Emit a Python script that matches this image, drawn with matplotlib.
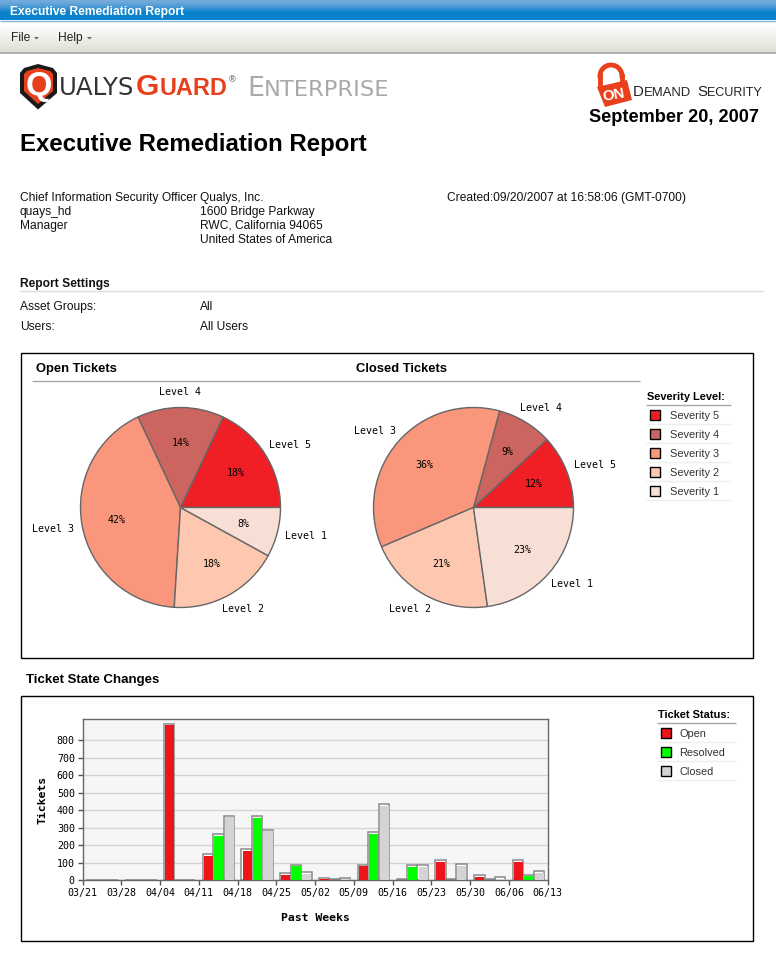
import numpy as np
import matplotlib
matplotlib.use('Agg')
import matplotlib.pyplot as plt
from matplotlib.patches import Polygon, Rectangle

W, H = 776, 968

# dados dos graficos
levels = ['Level 5', 'Level 4', 'Level 3', 'Level 2', 'Level 1']
severities = ['Severity 5', 'Severity 4', 'Severity 3', 'Severity 2', 'Severity 1']
pie_colors = ['#ef1f25', '#cc6460', '#f9967b', '#fec8b0', '#f7dfd5']
open_pct = [18, 14, 42, 18, 8]
closed_pct = [12, 9, 36, 21, 23]

weeks = ['03/21', '03/28', '04/04', '04/11', '04/18', '04/25', '05/02',
         '05/09', '05/16', '05/23', '05/30', '06/06', '06/13']
open_tickets = [0, 0, 895, 150, 180, 40, 15, 90, 5, 114, 28, 114]
resolved_tickets = [0, 0, 0, 265, 365, 90, 5, 274, 86, 5, 5, 32]
closed_tickets = [0, 0, 0, 370, 290, 45, 15, 434, 86, 91, 17, 51]
status_names = ['Open', 'Resolved', 'Closed']
status_colors = ['#ee141c', '#00ff00', '#d4d4d4']

SANS = 'Liberation Sans'
NARROW = 'Liberation Sans Narrow'
MONO = 'DejaVu Sans Mono'
ORANGE = '#e8401c'


def px(size):
    # tamanho em pixels para pontos (dpi 100)
    return size * 0.72


fig = plt.figure(figsize=(W / 100, H / 100), dpi=100)
page = fig.add_axes([0, 0, 1, 1])
page.set_xlim(0, W)
page.set_ylim(H, 0)
page.axis('off')


def txt(x, y, s, size=12, weight='normal', color='#111111', family=SANS, ha='left', **kw):
    page.text(x, y + 1, s, fontsize=px(size), fontweight=weight, color=color,
              family=family, ha=ha, va='center', **kw)


def base(x, y, s, size, weight, color, family):
    # texto do logo, alinhado pela linha de base
    page.text(x, y, s, fontsize=px(size), fontweight=weight, color=color,
              family=family, ha='left', va='baseline')


def hline(y, x0, x1, color, lw=1.0):
    page.plot([x0, x1], [y, y], color=color, lw=lw, solid_capstyle='butt')


# --- barra de titulo e menu ---
blue = np.array([[0.45, 0.67, 0.86], [0.28, 0.6, 0.83], [0.04, 0.51, 0.80], [0.04, 0.51, 0.80]])
page.imshow(blue[:, None, :], extent=[0, W, 20.5, 0], aspect='auto', interpolation='bilinear')
menu = np.linspace(0, 1, 8)[:, None, None] * (np.array([0.88, 0.875, 0.84]) - 1) + 1
page.imshow(menu, extent=[0, W, 53, 23], aspect='auto', interpolation='bilinear')
page.set_xlim(0, W)
page.set_ylim(H, 0)
hline(21, 0, W, '#7fb6dd', 1.0)
hline(53, 0, W, '#a8a8a4', 1.2)
txt(10, 11, 'Executive Remediation Report', 12, 'bold', 'white')
txt(11, 37, 'File', 12, color='#222222')
txt(58, 37, 'Help', 12, color='#222222')
for tx in [36.5, 89.5]:
    page.add_patch(Polygon([[tx - 2.5, 37], [tx + 2.5, 37], [tx, 39.5]], closed=True, fc='#666666', ec='none'))

# --- logos ---
page.add_patch(Polygon([[20, 73], [24, 68], [38, 64], [53, 68], [57, 73], [57, 93], [38, 109.5], [20, 93]],
                       closed=True, fc='#1a1a1a', ec='none'))
page.add_patch(Polygon([[24, 74], [27, 71], [38, 68], [50, 71], [53, 74], [53, 91], [38, 104], [24, 91]],
                       closed=True, fc=ORANGE, ec='none'))
txt(38.5, 85, 'Q', 34, 'bold', 'white', ha='center')
base(59, 95, 'UALYS', 24.5, 'normal', '#333333', NARROW)
base(136, 95, 'G', 30, 'bold', ORANGE, SANS)
base(160, 95, 'UARD', 23.5, 'bold', ORANGE, SANS)
txt(229, 79, '®', 9, color='#333333')
base(247, 96, 'E', 27, 'normal', '#a9a9a9', NARROW)
base(264, 96, 'NTERPRISE', 22.5, 'normal', '#a9a9a9', NARROW)

page.add_patch(Polygon([[597, 87], [627, 80], [632, 100], [605, 107]], closed=True, fc=ORANGE, ec='none'))
theta = np.linspace(np.pi, 2 * np.pi, 30)
page.plot(611 + 11 * np.cos(theta), 76 + 11 * np.sin(theta), color=ORANGE, lw=3.5)
page.plot([600, 600], [76, 87], color=ORANGE, lw=3.5)
page.plot([622, 622], [76, 82], color=ORANGE, lw=3.5)
txt(614, 94, 'ON', 15, 'bold', 'white', ha='center', rotation=10)
base(633, 96, 'D', 15, 'normal', '#222222', SANS)
base(644, 96, 'EMAND', 13, 'normal', '#222222', SANS)
base(697, 96, 'S', 15, 'normal', '#222222', SANS)
base(707, 96, 'ECURITY', 12.5, 'normal', '#222222', SANS)
txt(589, 117, 'September 20, 2007', 18.2, 'bold', '#000000')
txt(20, 144, 'Executive Remediation Report', 24, 'bold', '#000000')

# --- cabecalho do relatorio ---
left_col = ['Chief Information Security Officer', 'quays_hd', 'Manager']
mid_col = ['Qualys, Inc.', '1600 Bridge Parkway', 'RWC, California 94065', 'United States of America']
for i, s in enumerate(left_col):
    txt(20, 197 + i * 14, s)
for i, s in enumerate(mid_col):
    txt(200, 197 + i * 14, s)
txt(447, 197, 'Created:09/20/2007 at 16:58:06 (GMT-0700)')

txt(20, 283, 'Report Settings', 12, 'bold')
hline(291, 20, 763, '#dcdcdc')
txt(20, 306, 'Asset Groups:')
txt(200, 306, 'All')
txt(20, 326, 'Users:')
txt(200, 326, 'All Users')

# --- caixas ---
page.add_patch(Rectangle((21, 353), 731.5, 304.5, fc='white', ec='black', lw=1))
page.add_patch(Rectangle((21, 696), 731.5, 244.5, fc='white', ec='black', lw=1))
txt(36, 368, 'Open Tickets', 13, 'bold', '#000000')
txt(356, 368, 'Closed Tickets', 13, 'bold', '#000000')
hline(380.5, 32, 640, '#a8a8a8', 1.0)
txt(26, 679, 'Ticket State Changes', 13.3, 'bold', '#000000')


def legenda(title, names, colors, x0, x1, y_title, y_line, sw_x, text_x):
    txt(x0 + 1, y_title, title, 11, 'bold', '#000000')
    hline(y_line, x0, x1, '#a8a8a8', 1.0)
    for i, (n, c) in enumerate(zip(names, colors)):
        y = y_line + 10 + i * 19
        page.add_patch(Rectangle((sw_x, y - 5), 10, 10, fc=c, ec='black', lw=1))
        txt(text_x, y, n, 11, color='#333333')
        hline(y + 9, x0, x1, '#eeeeee', 1.0)


legenda('Severity Level:', severities, pie_colors, 646, 731, 396, 405, 649.5, 670)
legenda('Ticket Status:', status_names, status_colors, 657, 736, 714, 723, 660.5, 679)


# --- pizzas ---
def pizza(cx, cy, r, values):
    half = r * 1.5
    ax = fig.add_axes([(cx - half) / W, 1 - (cy + half) / H, 2 * half / W, 2 * half / H])
    ax.patch.set_alpha(0)
    wedges, _, autotexts = ax.pie(values, colors=pie_colors, startangle=0, counterclock=True,
                                  autopct='%.0f%%', pctdistance=0.65,
                                  wedgeprops={'edgecolor': '#666666', 'linewidth': 1.0})
    for t in autotexts:
        t.set_fontsize(px(10))
        t.set_family(MONO)
        t.set_color('black')
    for w, name in zip(wedges, levels):
        mid = np.radians((w.theta1 + w.theta2) / 2)
        ax.text(1.3 * np.cos(mid), 1.16 * np.sin(mid), name, fontsize=px(10), family=MONO,
                ha='center', va='center', color='black')
    ax.set_xlim(-1.5, 1.5)
    ax.set_ylim(-1.5, 1.5)
    ax.axis('off')


pizza(180.5, 507.5, 100, open_pct)
pizza(473.5, 507.5, 100, closed_pct)

# --- barras ---
bx0, bx1, by0, by1 = 82.5, 547.7, 718.7, 880.3
ax = fig.add_axes([bx0 / W, 1 - by1 / H, (bx1 - bx0) / W, (by1 - by0) / H])
ax.set_facecolor('#f6f6f6')
ax.set_xlim(0, 12)
ax.set_ylim(0, 923)
ax.set_axisbelow(True)
ax.grid(axis='y', color='#d4d4d4', lw=1)
ax.set_yticks(range(0, 900, 100))
ax.set_xticks(range(len(weeks)))
ax.set_xticklabels(weeks)
ax.tick_params(axis='both', labelsize=px(10), length=3.5, width=1, color='#555555', pad=2)
for lab in ax.get_xticklabels() + ax.get_yticklabels():
    lab.set_family(MONO)
    lab.set_color('black')
for s in ax.spines.values():
    s.set_color('#666666')
    s.set_linewidth(1.0)

bar_w = 0.27
idx = np.arange(len(open_tickets))
for j, (serie, cor) in enumerate(zip([open_tickets, resolved_tickets, closed_tickets], status_colors)):
    vals = np.array(serie, dtype=float)
    pos = idx + 0.1 + bar_w / 2 + j * bar_w
    ax.bar(pos, vals, width=bar_w, color='white', edgecolor='#8a8a8a', linewidth=1.1, zorder=2)
    ax.bar(pos + 0.01, np.maximum(vals - 10, 0), width=0.235, color=cor, linewidth=0, zorder=3)
ax.set_ylabel('Tickets', fontsize=px(11.5), fontweight='bold', family=MONO, labelpad=7)
ax.set_xlabel('Past Weeks', fontsize=px(11.5), fontweight='bold', family=MONO, labelpad=11)

fig.savefig('out.png', dpi=100)
